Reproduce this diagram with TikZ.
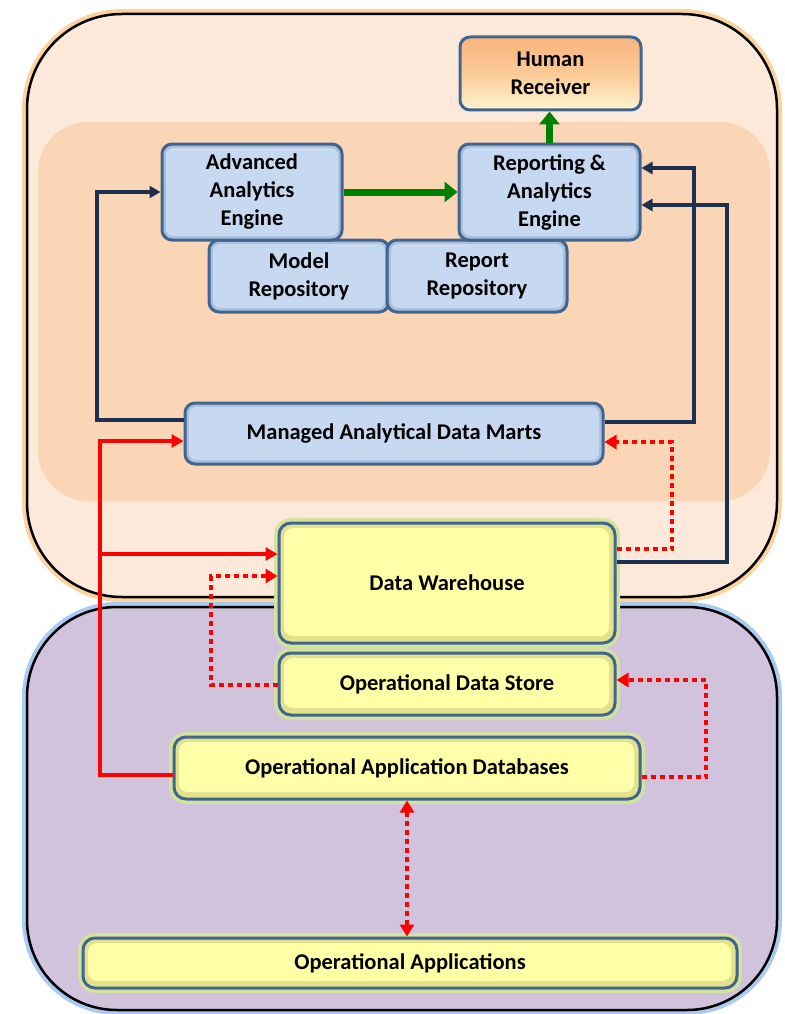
\documentclass[tikz,border=0pt]{standalone}
\usepackage{fontspec}
\setmainfont{Carlito}
\usetikzlibrary{arrows.meta}
\definecolor{navy}{HTML}{1C314F}
\definecolor{boxedge}{HTML}{41658F}
\definecolor{bluein}{HTML}{C6D9F1}
\definecolor{blueout}{HTML}{A9C0DD}
\definecolor{yelin}{HTML}{FFFFA8}
\definecolor{yelout}{HTML}{E2E28C}
\definecolor{yglow}{HTML}{D3E29C}
\definecolor{toporange}{HTML}{FCE9DA}
\definecolor{inorange}{HTML}{FAD6B7}
\definecolor{orglow}{HTML}{FCD39F}
\definecolor{purplebg}{HTML}{D0C3DB}
\definecolor{blglow}{HTML}{A9CBF2}
\definecolor{hrtop}{HTML}{F8B37C}
\definecolor{hrmid}{HTML}{FBCB98}
\definecolor{hrbot}{HTML}{FFF4CF}
\definecolor{arrgreen}{HTML}{008000}
\definecolor{arrred}{HTML}{FF0000}
\begin{document}
\begin{tikzpicture}[x=1pt,y=-1pt,
  boxtext/.style={font=\bfseries\fontsize{22.5}{28}\selectfont, align=center, text=black, inner sep=0pt},
  bluebox/.style={boxtext, rounded corners=10pt, draw=boxedge, line width=3pt, fill=blueout,
    path picture={\fill[bluein, rounded corners=7pt] ([shift={(4pt,-4pt)}]path picture bounding box.north west) rectangle ([shift={(-4pt,4pt)}]path picture bounding box.south east);}},
  yelbox/.style={boxtext, rounded corners=12pt, draw=boxedge, line width=3pt, fill=yelout,
    preaction={draw=yglow, line width=10pt},
    path picture={\fill[yelin, rounded corners=9pt] ([shift={(5pt,-5pt)}]path picture bounding box.north west) rectangle ([shift={(-6pt,7pt)}]path picture bounding box.south east);}},
  hrbox/.style={boxtext, rounded corners=10pt, draw=boxedge, line width=3pt, top color=hrtop, bottom color=hrbot, middle color=hrmid},
  navyarr/.style={draw=navy, line width=3.5pt, -{Triangle[length=11pt,width=12pt]}},
  greenarr/.style={draw=arrgreen, line width=7pt, -{Triangle[length=13pt,width=20pt]}},
  redarr/.style={draw=arrred, line width=4pt, -{Triangle[length=12pt,width=13pt]}},
  reddot/.style={draw=arrred, line width=4.5pt, dash pattern=on 5pt off 4pt, -{Triangle[length=12pt,width=14pt]}},
  reddotboth/.style={draw=arrred, line width=4.5pt, dash pattern=on 5pt off 4pt, {Triangle[length=12pt,width=14pt]}-{Triangle[length=12pt,width=14pt]}},
  container/.style={draw=black, line width=2.5pt}
]
\useasboundingbox (0,0) rectangle (784,1014);
\fill[white] (0,0) rectangle (784,1014);

% containers
\path[container, rounded corners=95pt, fill=toporange, preaction={draw=orglow, line width=10pt}] (27,14) rectangle (777,597);
\fill[inorange, rounded corners=50pt] (38,122) rectangle (770,501);
\path[container, rounded corners=90pt, fill=purplebg, preaction={draw=blglow, line width=10pt}] (27,607) rectangle (777,1010);

% nodes
\node[hrbox, minimum width=181, minimum height=73] (hr) at (550.5,73.5) {Human\\Receiver};
\node[bluebox, minimum width=180, minimum height=72] (mr) at (299,276) {Model\\Repository};
\node[bluebox, minimum width=180, minimum height=72] (rr) at (477,276) {Report\\Repository};
\node[bluebox, minimum width=180, minimum height=96] (aae) at (252,192) {Advanced\\Analytics\\Engine};
\node[bluebox, minimum width=181, minimum height=96] (rae) at (549.5,192) {Reporting \&\\Analytics\\Engine};
\node[bluebox, minimum width=418, minimum height=61] (madm) at (394,433.5) {Managed Analytical Data Marts};
\node[yelbox, minimum width=336, minimum height=120] (dw) at (447,583) {Data Warehouse};
\node[yelbox, minimum width=336, minimum height=62] (ods) at (447,684) {Operational Data Store};
\node[yelbox, minimum width=466, minimum height=62] (oadb) at (407,768) {Operational Application Databases};
\node[yelbox, minimum width=654, minimum height=50] (oa) at (410,963) {Operational Applications};

% navy connectors
\draw[navyarr] (madm.west |- 0,420) -- (97,420) -- (97,192) -- (aae.west);
\draw[navyarr] (madm.east |- 0,422) -- (694,422) -- (694,168) -- (rae.east |- 0,168);
\draw[navyarr] (dw.east |- 0,562) -- (727,562) -- (727,205) -- (rae.east |- 0,205);

% green connectors
\draw[greenarr] (aae.east) -- (rae.west);
\draw[greenarr] (rae.north) -- (rae.north |- hr.south);

% red solid connectors
\coordinate (br) at (100,554);
\draw[redarr] (oadb.west |- 0,775) -- (100,775) -- (100,441) -- (madm.west |- 0,441);
\draw[redarr] (br) -- (dw.west |- br);

% red dotted connectors
\draw[reddot] (ods.west |- 0,685) -- (211,685) -- (211,576) -- (dw.west |- 0,576);
\draw[reddot] (dw.east |- 0,549) -- (672,549) -- (672,442) -- (madm.east |- 0,442);
\draw[reddot] (oadb.east |- 0,777) -- (706,777) -- (706,680) -- (ods.east |- 0,680);
\draw[reddotboth] (oadb.south) -- (oadb.south |- oa.north);
\end{tikzpicture}
\end{document}
